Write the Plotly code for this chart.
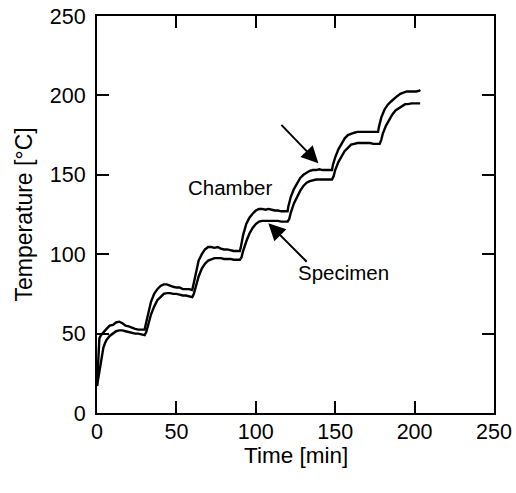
import plotly.graph_objects as go

chamber_t = [0, 0.5, 1, 1.5, 2.5, 4, 6, 8, 10, 12, 14, 16, 18, 20, 22, 24, 26, 28, 30,
             30.5, 32, 34, 36, 38, 40, 42, 44, 46, 48, 50, 52, 54, 56, 58, 60,
             60.5, 62, 64, 66, 68, 70, 72, 74, 76, 78, 80, 82, 84, 86, 88, 90,
             90.5, 92, 94, 96, 98, 100, 102, 104, 106, 108, 110, 112, 114, 116, 118, 120,
             120.5, 122, 124, 126, 128, 130, 132, 134, 136, 138, 140, 142, 144, 146, 148,
             148.5, 150, 152, 154, 156, 158, 160, 162, 164, 166, 168, 170, 172, 174, 176, 177,
             177.5, 179, 181, 183, 185, 187, 189, 191, 193, 195, 197, 199, 201, 203, 203.5]
chamber_T = [17, 30, 42, 47, 49, 51, 53, 55, 55.5, 57, 57.5, 56.5, 55, 54.5, 53.5, 53, 52.5, 52.5, 52.5,
             55, 62, 70, 75, 78, 80, 81, 81, 80, 79.5, 79, 79, 78, 78, 78, 77.5,
             80, 88, 96, 100, 103, 104.5, 104.5, 104, 104.5, 103.5, 103, 103, 102.5, 102, 102, 102,
             104, 112, 119, 123, 125.5, 127.5, 128.5, 128.5, 128, 128.5, 128, 127.5, 127.5, 127, 127, 127,
             130, 136, 141, 145, 148, 150, 151.5, 152.5, 153, 153, 153.5, 153, 153, 153, 153,
             156, 161, 166, 170, 173, 175, 176, 176.5, 177, 177, 177, 177, 177, 177, 177, 177,
             180, 186, 191, 194, 196, 198, 199.5, 201, 202, 202.5, 202.5, 202.5, 202.5, 203, 203.5]

specimen_t = [0, 0.5, 1, 2, 3, 4, 5, 6, 8, 10, 12, 14, 16, 18, 20, 22, 24, 26, 28, 30,
              31, 32, 34, 36, 38, 40, 42, 44, 46, 48, 50, 52, 54, 56, 58, 60,
              61, 62, 64, 66, 68, 70, 72, 74, 76, 78, 80, 82, 84, 86, 88, 90,
              91, 92, 94, 96, 98, 100, 102, 104, 106, 108, 110, 112, 114, 116, 118, 120,
              121, 122, 124, 126, 128, 130, 132, 134, 136, 138, 140, 142, 144, 146, 148,
              149, 150, 152, 154, 156, 158, 160, 162, 164, 166, 168, 170, 172, 174, 176, 178,
              179, 180, 182, 184, 186, 188, 190, 192, 194, 196, 198, 200, 202, 203.5]
specimen_T = [17, 20, 24, 31, 37, 41, 44, 46, 48.5, 50, 51.5, 52, 52, 51.5, 51, 50.5, 50, 50, 49.5, 49,
              51, 55, 62, 67, 71, 73, 75, 75.5, 75.5, 75, 75, 74.5, 74, 74, 73.5, 73,
              75, 79, 86, 91, 94, 96, 97, 97.5, 97.5, 97.5, 97, 97, 97, 96.5, 96.5, 96.5,
              98, 102, 108, 113, 116.5, 119, 120.5, 121, 121, 121, 121, 121, 121, 120.5, 120.5, 120.5,
              122, 126, 132, 136.5, 140, 143, 145, 146, 146.5, 147, 147, 147, 147, 147, 147,
              149, 153, 158, 162, 165, 167, 169, 169.5, 170, 170, 170, 170, 170, 169.5, 169.5, 169.5,
              172, 176, 181, 185, 188, 190.5, 192, 193.5, 194.5, 194.5, 195, 195, 195, 195]

x_ticks = [0, 50, 100, 150, 200, 250]
y_ticks = [0, 50, 100, 150, 200, 250]

FONT = "Liberation Sans, Arial, sans-serif"

fig = go.Figure()
fig.add_trace(go.Scatter(x=chamber_t, y=chamber_T, mode="lines", name="Chamber",
                         line=dict(color="black", width=2.4)))
fig.add_trace(go.Scatter(x=specimen_t, y=specimen_T, mode="lines", name="Specimen",
                         line=dict(color="black", width=2.4)))

axis_common = dict(
    showgrid=False, zeroline=False, showline=True, linecolor="black", linewidth=2,
    mirror="ticks", ticks="inside", ticklen=12, tickwidth=2, tickcolor="black",
    tickfont=dict(family=FONT, size=21.5, color="black"), automargin=False,
)
fig.update_xaxes(range=[0, 250], tickvals=x_ticks, ticktext=[str(v) for v in x_ticks],
                 ticklabelstandoff=-2, **axis_common)
fig.update_yaxes(range=[0, 250], tickvals=y_ticks, ticktext=[str(v) for v in y_ticks],
                 ticklabelstandoff=5, **axis_common)

# axis titles
fig.add_annotation(x=0.5, y=-0.107, xref="paper", yref="paper", text="Time [min]", showarrow=False,
                   xanchor="center", yanchor="middle", font=dict(family=FONT, size=22.5, color="black"))
fig.add_annotation(x=-0.184, y=0.5, xref="paper", yref="paper", text="Temperature [°C]", showarrow=False,
                   textangle=-90, xanchor="center", yanchor="middle",
                   font=dict(family=FONT, size=23, color="black"))

fig.add_annotation(x=139.4, y=157.2, ax=115.2, ay=182.4, axref="x", ayref="y", xref="x", yref="y",
                   text="", showarrow=True, arrowhead=2, arrowsize=1.7, arrowwidth=2, arrowcolor="black",
                   standoff=0, startstandoff=0)
fig.add_annotation(x=107.9, y=119.5, ax=133, ay=94.3, axref="x", ayref="y", xref="x", yref="y",
                   text="", showarrow=True, arrowhead=2, arrowsize=1.7, arrowwidth=2, arrowcolor="black",
                   standoff=0, startstandoff=0)
fig.add_annotation(x=83.8, y=141.7, xref="x", yref="y", text="Chamber", showarrow=False,
                   font=dict(family=FONT, size=20.5, color="black"))
fig.add_annotation(x=155, y=88.2, xref="x", yref="y", text="Specimen", showarrow=False,
                   font=dict(family=FONT, size=20.5, color="black"))

fig.update_layout(
    width=516, height=493, showlegend=False,
    margin=dict(l=97, r=22, t=16, b=80),
    plot_bgcolor="white", paper_bgcolor="white",
)
fig.write_html("out.html", config={"displayModeBar": False},
               post_script="document.body.style.margin='0';document.body.style.overflow='hidden';")
